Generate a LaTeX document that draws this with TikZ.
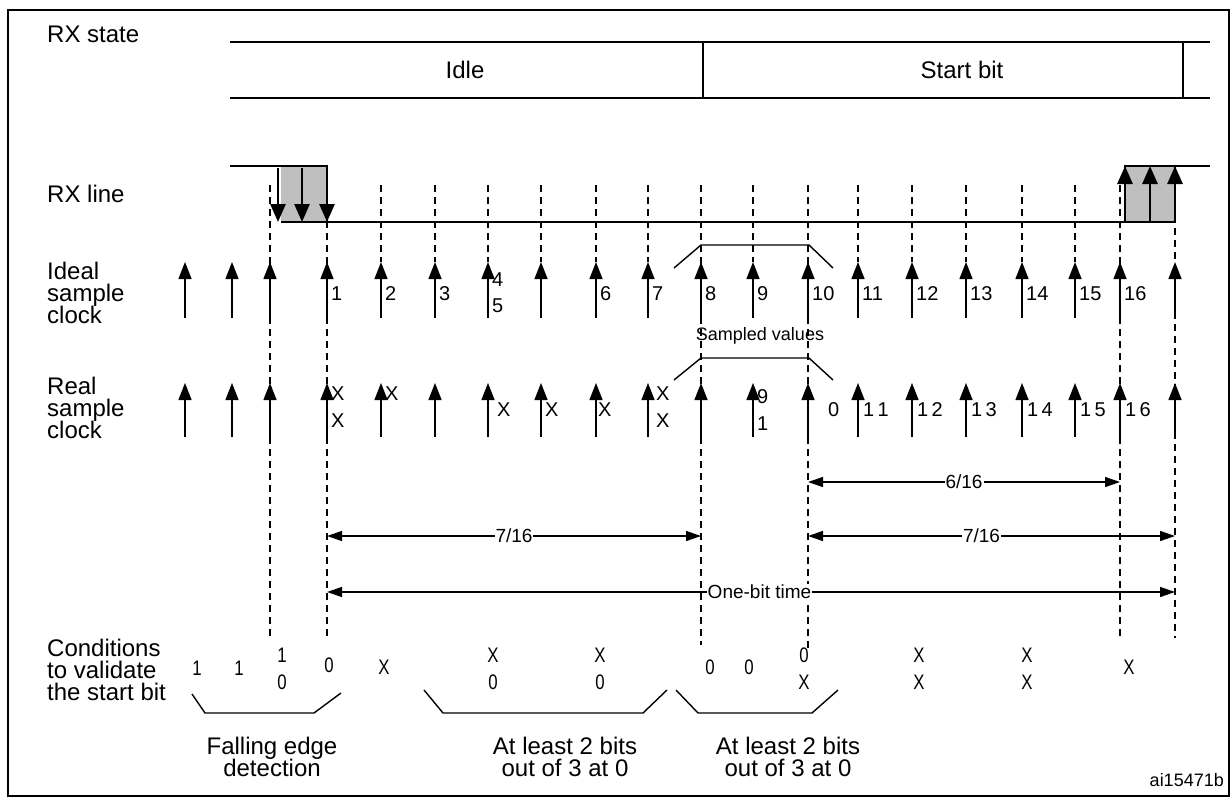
\documentclass[tikz,border=0pt]{standalone}
\usepackage{fontspec}
\setmainfont{Liberation Sans}
\usetikzlibrary{arrows.meta}
\begin{document}
\begin{tikzpicture}[x=1pt,y=-1pt,
  lbl/.style={font=\fontsize{24}{27}\selectfont,anchor=west,align=left,inner sep=0pt},
  big/.style={font=\fontsize{24}{27}\selectfont},
  num/.style={font=\fontsize{20}{22}\selectfont,inner sep=0pt},
  cond/.style={font=\fontsize{21}{22}\selectfont,inner sep=0pt,xscale=0.8},
  clk/.style={line width=1.4pt,-{Triangle[length=17pt,width=13pt]}},
  dsh/.style={line width=1.1pt,dash pattern=on 7pt off 5pt},
  thick line/.style={line width=2.8pt},
  dim/.style={line width=1.4pt,{Triangle[length=15pt,width=10pt]}-{Triangle[length=15pt,width=10pt]}},
  brk/.style={line width=1.4pt},
  sm/.style={font=\fontsize{19}{21}\selectfont,fill=white,inner sep=1pt}]
\useasboundingbox (0,0) rectangle (1230,797);
\draw[line width=2pt] (8,10) rectangle (1229,796);
% RX state
\node[lbl] (rxs) at (47,34) {RX state};
\draw[thick line] (230,42) -- (1210,42);
\draw[thick line] (230,98) -- (1210,98);
\draw[line width=1.4pt] (703,42) -- (703,98) (1183,42) -- (1183,98);
\node[big] (idle) at (465,70) {Idle};
\node[big] (sb) at (962,70) {Start bit};
% dashed lines
\foreach \x in {381,435,488,541,596,648,753,858,912,966,1022,1075}
  \draw[dsh] (\x,185) -- (\x,262);
\draw[dsh] (270,185) -- (270,640);
\draw[dsh] (327,185) -- (327,640);
\draw[dsh] (701,185) -- (701,645);
\draw[dsh] (808,185) -- (808,650);
\draw[dsh] (1120,185) -- (1120,640);
\draw[dsh] (1175,180) -- (1175,638);
% RX line
\node[lbl] (rxl) at (47,194) {RX line};
\fill[gray!50] (281,166) rectangle (327,222);
\fill[gray!50] (1125,166) rectangle (1175,222);
\draw[thick line] (230,166) -- (327,166) -- (327,222);
\draw[thick line] (281,222) -- (1175,222) -- (1175,166) -- (1210,166);
\draw[thick line] (1125,222) -- (1125,166) -- (1175,166);
\foreach \x in {278,302,327}
  \draw[line width=2.8pt,-{Triangle[length=18pt,width=15pt]}] (\x,168) -- (\x,222);
\foreach \x in {1125,1150,1175}
  \draw[line width=2.8pt,-{Triangle[length=18pt,width=15pt]}] (\x,222) -- (\x,166);
% Ideal clock
\node[lbl] (ideal) at (47,293) {Ideal\\[-5pt]sample\\[-5pt]clock};
\foreach \x in {185,232,270,327,381,435,488,541,596,648,701,753,808,858,912,966,1022,1075,1120,1175}
  \draw[clk] (\x,318) -- (\x,262);
\foreach \x/\t in {327/1,381/2,435/3,596/6,648/7,701/8,753/9,808/10,858/11,912/12,966/13,1022/14,1075/15,1120/16}
  \node[num,anchor=west] at (\x+4,294) {\t};
\node[num,anchor=west] at (492,280) {4};
\node[num,anchor=west] at (492,306) {5};
\draw[brk] (674,268) -- (701,245) -- (809,245) -- (833,268);
\node[font=\fontsize{18}{20}\selectfont] (sv) at (760,336) {Sampled values};
\draw[brk] (674,380) -- (701,358) -- (809,358) -- (833,380);
% Real clock
\node[lbl] (real) at (47,408) {Real\\[-5pt]sample\\[-5pt]clock};
\foreach \x in {185,232,270,327,381,435,488,541,596,648,701,753,808,858,912,966,1022,1075,1120,1175}
  \draw[clk] (\x,437) -- (\x,383);
\foreach \x/\y in {331/394,331/421,385/394,497/410,545/410,598/410,656/394,656/421}
  \node[num,anchor=west] at (\x,\y) {X};
\node[num,anchor=west] at (757,397) {9};
\node[num,anchor=west] at (757,424) {1};
\node[num,anchor=west] at (828,410) {0};
\foreach \x/\t in {858/1\,1,912/1\,2,966/1\,3,1022/1\,4,1075/1\,5,1120/1\,6}
  \node[num,anchor=west] at (\x+5,410) {\t};
% dimension arrows
\draw[dim] (808,482) -- (1120,482) node[sm,midway] {6/16};
\draw[dim] (327,536) -- (701,536) node[sm,midway] {7/16};
\draw[dim] (808,536) -- (1175,536) node[sm,midway,xshift=-10pt] {7/16};
\draw[dim] (327,592) -- (1175,592) node[sm,pos=0.51] {One-bit time};
% conditions
\node[lbl] (cond) at (47,670) {Conditions\\[-5pt]to validate\\[-5pt]the start bit};
\foreach \x/\y/\t in {197/668/1,239/668/1,282/655/1,282/682/0,329/665/0,384/667/X,493/655/X,493/682/0,600/655/X,600/682/0,710/667/0,749/667/0,804/655/0,804/682/X,919/655/X,919/682/X,1027/655/X,1027/682/X,1129/667/X}
  \node[cond] at (\x,\y) {\t};
\draw[brk] (192,694) -- (205,713) -- (314,713) -- (341,693);
\draw[brk] (424,690) -- (443,713) -- (643,713) -- (667,690);
\draw[brk] (676,690) -- (698,713) -- (812,713) -- (838,690);
\node[big,align=center,inner sep=0pt] (fe) at (272,757) {Falling edge\\[-5pt]detection};
\node[big,align=center,inner sep=0pt] (a1) at (565,757) {At least 2 bits\\[-5pt]out of 3 at 0};
\node[big,align=center,inner sep=0pt] (a2) at (788,757) {At least 2 bits\\[-5pt]out of 3 at 0};
\node[font=\fontsize{18}{20}\selectfont,anchor=east,inner sep=0pt] (id) at (1224,780) {ai15471b};
\end{tikzpicture}
\end{document}
